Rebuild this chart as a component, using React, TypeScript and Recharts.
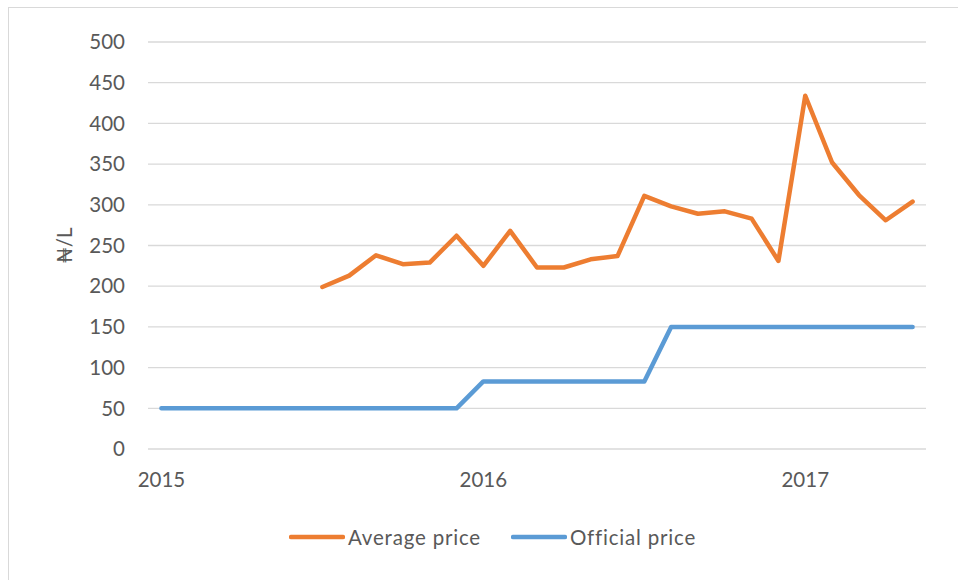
import React from "react";
import { LineChart, Line, XAxis, YAxis, CartesianGrid, Legend } from "recharts";

const months = [
  "Jan 2015", "Feb 2015", "Mar 2015", "Apr 2015", "May 2015", "Jun 2015",
  "Jul 2015", "Aug 2015", "Sep 2015", "Oct 2015", "Nov 2015", "Dec 2015",
  "Jan 2016", "Feb 2016", "Mar 2016", "Apr 2016", "May 2016", "Jun 2016",
  "Jul 2016", "Aug 2016", "Sep 2016", "Oct 2016", "Nov 2016", "Dec 2016",
  "Jan 2017", "Feb 2017", "Mar 2017", "Apr 2017", "May 2017",
];

const averagePrice: (number | null)[] = [
  null, null, null, null, null, null,
  199, 213, 238, 227, 229, 262,
  225, 268, 223, 223, 233, 237,
  311, 298, 289, 292, 283, 231,
  434, 352, 312, 281, 304,
];

const officialPrice = [
  50, 50, 50, 50, 50, 50, 50, 50, 50, 50, 50, 50,
  83, 83, 83, 83, 83, 83, 83,
  150, 150, 150, 150, 150, 150, 150, 150, 150, 150,
];

const yearTicks = [0, 12, 24];
const yearLabels = ["2015", "2016", "2017"];
const yTicks = [0, 50, 100, 150, 200, 250, 300, 350, 400, 450, 500];

const ORANGE = "#ED7D31";
const BLUE = "#5B9BD5";
const TEXT = "#595959";
const FONT = "Lato, 'DejaVu Sans', sans-serif";

const data = months.map((m, i) => ({
  idx: i,
  month: m,
  avg: averagePrice[i],
  official: officialPrice[i],
}));

const legendItems = [
  { name: "Average price", color: ORANGE },
  { name: "Official price", color: BLUE },
];

function renderYLabel(props: any) {
  const vb = props.viewBox || { x: 0, y: 34, width: 139, height: 407 };
  const cx = vb.x + 55;
  const cy = vb.y + vb.height / 2;
  return (
    <text
      x={cx}
      y={cy}
      transform={`rotate(-90 ${cx} ${cy})`}
      textAnchor="middle"
      dominantBaseline="central"
      fill={TEXT}
      fontSize={20.5}
      fontFamily={FONT}
    >
      ₦/L
    </text>
  );
}

function renderLegend() {
  return (
    <div
      style={{
        display: "flex",
        alignItems: "center",
        fontFamily: FONT,
        fontSize: 20.5,
        letterSpacing: 0.8,
        color: TEXT,
      }}
    >
      {legendItems.map((it, i) => (
        <div key={it.name} style={{ display: "flex", alignItems: "center", marginLeft: i === 0 ? 0 : 30 }}>
          <svg width={56} height={10} style={{ marginRight: 3 }}>
            <line x1={2} y1={5} x2={54} y2={5} stroke={it.color} strokeWidth={4.5} strokeLinecap="round" />
          </svg>
          <span style={{ whiteSpace: "nowrap" }}>{it.name}</span>
        </div>
      ))}
    </div>
  );
}

export default function App() {
  return (
    <div
      style={{
        position: "absolute",
        left: 8,
        top: 7,
        width: 950,
        height: 572,
        border: "1px solid #d9d9d9",
        background: "#fff",
      }}
    >
      <LineChart width={950} height={572} data={data} margin={{ top: 34, right: 33, left: 0, bottom: 101 }}>
        <CartesianGrid vertical={false} stroke="#d9d9d9" strokeWidth={1.3} />
        <XAxis
          dataKey="idx"
          type="number"
          domain={[-0.5, 28.5]}
          ticks={yearTicks}
          tickFormatter={(v: number) => yearLabels[yearTicks.indexOf(v)] ?? ""}
          axisLine={false}
          tickLine={false}
          tickMargin={17}
          height={30}
          tick={{ fill: TEXT, fontSize: 20.5, fontFamily: FONT }}
        />
        <YAxis
          domain={[0, 500]}
          ticks={yTicks}
          width={139}
          axisLine={false}
          tickLine={false}
          tickMargin={17}
          tick={{ fill: TEXT, fontSize: 20.5, fontFamily: FONT }}
          label={renderYLabel}
        />
        <Legend
          layout="horizontal"
          verticalAlign="middle"
          align="center"
          content={renderLegend}
          wrapperStyle={{ left: 280, top: 517, width: "auto" }}
        />
        <Line
          type="linear"
          dataKey="avg"
          name="Average price"
          stroke={ORANGE}
          strokeWidth={4.5}
          strokeLinecap="round"
          strokeLinejoin="round"
          dot={false}
          activeDot={false}
          isAnimationActive={false}
        />
        <Line
          type="linear"
          dataKey="official"
          name="Official price"
          stroke={BLUE}
          strokeWidth={4.5}
          strokeLinecap="round"
          strokeLinejoin="round"
          dot={false}
          activeDot={false}
          isAnimationActive={false}
        />
      </LineChart>
    </div>
  );
}
